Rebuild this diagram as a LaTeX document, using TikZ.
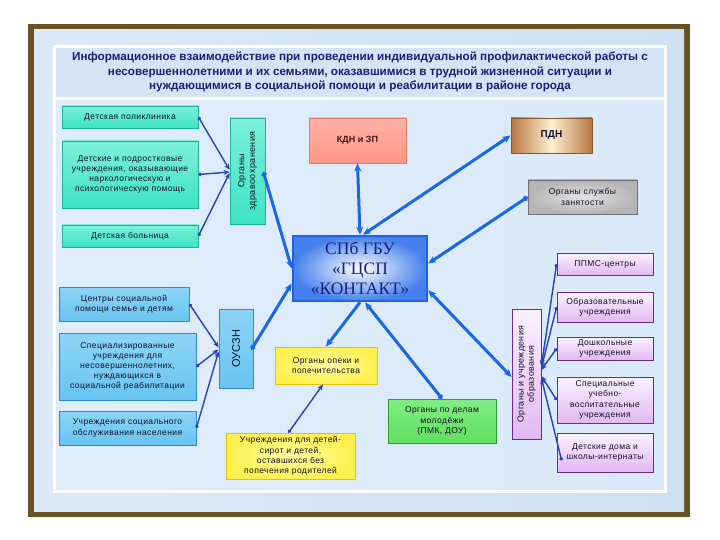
\documentclass[tikz,border=0pt]{standalone}
\usepackage{fontspec}
\setmainfont{Liberation Sans}
\newfontfamily\boxf[LetterSpace=5]{Liberation Sans}
\newfontfamily\serifx{Liberation Serif}
\usetikzlibrary{arrows.meta,calc,shadings}
\definecolor{frameb}{RGB}{107,82,37}
\definecolor{outerbg}{RGB}{206,224,242}
\definecolor{titlebg}{RGB}{212,228,245}
\definecolor{diagbg}{RGB}{218,233,249}
\definecolor{navy}{RGB}{26,30,120}
\definecolor{thinb}{RGB}{36,68,184}
\definecolor{thickb}{RGB}{26,104,228}
\definecolor{tealf}{RGB}{60,228,196}
\definecolor{tealt}{RGB}{125,240,218}
\definecolor{tealb}{RGB}{32,176,150}
\definecolor{bluef}{RGB}{104,196,240}
\definecolor{bluet}{RGB}{140,212,246}
\definecolor{blueb}{RGB}{52,136,214}
\definecolor{salf}{RGB}{255,150,136}
\definecolor{salt}{RGB}{255,178,164}
\definecolor{salb}{RGB}{226,122,106}
\definecolor{pdnf}{RGB}{184,120,66}
\definecolor{pdnc}{RGB}{255,240,208}
\definecolor{pdnb}{RGB}{138,90,40}
\definecolor{grayf}{RGB}{180,180,180}
\definecolor{grayc}{RGB}{228,228,228}
\definecolor{grayb}{RGB}{110,110,110}
\definecolor{spbf}{RGB}{70,128,236}
\definecolor{spbb}{RGB}{30,98,230}
\definecolor{yelf}{RGB}{255,240,80}
\definecolor{yelc}{RGB}{255,255,160}
\definecolor{yelb}{RGB}{226,196,0}
\definecolor{grnf}{RGB}{96,224,96}
\definecolor{grnt}{RGB}{130,236,130}
\definecolor{grnb}{RGB}{46,158,46}
\definecolor{purt}{RGB}{250,242,255}
\definecolor{purf}{RGB}{226,184,242}
\definecolor{purb}{RGB}{106,44,140}
\definecolor{txt}{RGB}{16,16,40}
\tikzset{
  box/.style={draw, line width=0.8pt, inner sep=1pt, align=center, text=txt,
    font=\boxf\fontsize{8.5}{10.2}\selectfont},
  teal/.style={box, draw=tealb, top color=tealt, bottom color=tealf},
  bluebox/.style={box, draw=blueb, top color=bluet, bottom color=bluef},
  purp/.style={box, draw=purb, top color=purt, bottom color=purf},
  yel/.style={box, draw=yelb, inner color=yelc, outer color=yelf},
  thin/.style={draw=thinb, line width=1.4pt, {Circle[length=3.4pt]}-{Stealth[length=6pt,width=5pt]}},
  thick/.style={draw=thickb, line width=3pt, -{Stealth[length=8pt,width=7pt]}},
  thickdd/.style={draw=thickb, line width=3pt, {Stealth[length=8pt,width=7pt]}-{Stealth[length=8pt,width=7pt]}},
  thickdot/.style={draw=thickb, line width=3pt, {Circle[length=5pt]}-{Stealth[length=8pt,width=7pt]}},
}
\begin{document}
\begin{tikzpicture}[x=1pt,y=-1pt]
\useasboundingbox (0,0) rectangle (720,540);
\fill[white] (0,0) rectangle (720,540);
% frame
\fill[frameb] (28,24) rectangle (690,517);
\fill[left color=outerbg!70!white, right color=outerbg] (34,30) rectangle (684,511);
% panel
\fill[white] (53,45) rectangle (667,493);
\fill[titlebg] (56,48) rectangle (664,97);
\fill[left color=diagbg!85!white, right color=diagbg] (56,101) rectangle (664,489);

\node[text=navy, font=\bfseries\fontsize{11.7}{14.5}\selectfont, align=center] (title) at (360,72)
 {Информационное взаимодействие при проведении индивидуальной профилактической работы с\\
  несовершеннолетними и их семьями, оказавшимися в трудной жизненной ситуации и\\
  нуждающимися в социальной помощи и реабилитации в районе города};

% left top group
\node[teal, minimum width=136pt, minimum height=22pt] (pol) at (130,117) {Детская поликлиника};
\node[teal, minimum width=136pt, minimum height=67pt] (podr) at (130,174.5)
 {Детские и подростковые\\учреждения, оказывающие\\наркологическую и\\психологическую помощь};
\node[teal, minimum width=136pt, minimum height=22pt] (boln) at (130,236) {Детская больница};
\node[teal, minimum width=106pt, minimum height=35pt, rotate=90, font=\boxf\fontsize{9}{10.8}\selectfont] (zdrav) at (247.5,171)
 {Органы\\здравоохранения};

% left bottom group
\node[bluebox, minimum width=130pt, minimum height=34pt] (centr) at (124,304)
 {Центры социальной\\помощи семье и детям};
\node[bluebox, minimum width=137pt, minimum height=67pt] (spez) at (127.5,366.5)
 {Специализированные\\учреждения для\\несовершеннолетних,\\нуждающихся в\\социальной реабилитации};
\node[bluebox, minimum width=137pt, minimum height=34pt] (obsl) at (127.5,428)
 {Учреждения социального\\обслуживания населения};
\node[bluebox, minimum width=79pt, minimum height=34pt, rotate=90, font=\fontsize{11}{12}\selectfont] (ouszn) at (236,348.5) {ОУСЗН};

% top
\node[box, draw=salb, top color=salt, bottom color=salf, minimum width=97pt, minimum height=45pt,
  font=\bfseries\fontsize{9}{10}\selectfont, text={rgb,255:red,70;green,20;blue,20}] (kdn) at (357.5,140.5) {КДН и ЗП};
\node[box, draw=pdnb, left color=pdnf, right color=pdnf, middle color=pdnc, minimum width=81pt, minimum height=35pt,
  font=\bfseries\fontsize{10}{11}\selectfont] (pdn) at (551.5,135.5) {ПДН};
\node[box, draw=grayb, inner color=grayc, outer color=grayf, minimum width=109pt, minimum height=34pt] (zan) at (582.5,197)
 {Органы службы\\занятости};

% center
\node[draw=spbb, line width=2.6pt, inner color=white, outer color=spbf, minimum width=134pt, minimum height=65pt,
  align=center, text=navy, font=\serifx\fontsize{17.5}{20}\selectfont] (spb) at (360,268.5)
 {СПб ГБУ\\«ГЦСП\\«КОНТАКТ»};

% bottom middle
\node[yel, minimum width=102pt, minimum height=37pt] (opek) at (326,365.5) {Органы опеки и\\попечительства};
\node[yel, minimum width=129pt, minimum height=46pt] (sirot) at (290.5,456)
 {Учреждения для детей-\\сирот и детей,\\оставшихся без\\попечения родителей};
\node[box, draw=grnb, top color=grnt, bottom color=grnf, minimum width=108pt, minimum height=44pt] (mol) at (442,421)
 {Органы по делам\\молодёжи\\(ПМК, ДОУ)};

% right group
\node[purp, minimum width=130pt, minimum height=29pt, rotate=90, font=\boxf\fontsize{8.8}{10.2}\selectfont] (orgobr) at (526.5,374)
 {Органы и учреждения\\образования};
\node[purp, minimum width=96pt, minimum height=22pt] (ppms) at (605,264) {ППМС-центры};
\node[purp, minimum width=96pt, minimum height=30pt] (obr) at (605,307) {Образовательные\\учреждения};
\node[purp, minimum width=96pt, minimum height=23pt] (dosh) at (605,348.5) {Дошкольные\\учреждения};
\node[purp, minimum width=96pt, minimum height=46pt] (spec) at (605,400) {Специальные\\учебно-\\воспитательные\\учреждения};
\node[purp, minimum width=96pt, minimum height=39pt] (dd) at (605,452.5) {Детские дома и\\школы-интернаты};

% thin feeders (rotated nodes: north = left side, south = right side)
\draw[thin] (pol.east) -- ($(zdrav.north)+(0,-1)$);
\draw[thin] (podr.east) -- ($(zdrav.north)+(0,1)$);
\draw[thin] (boln.east) -- ($(zdrav.north)+(0,2)$);
\draw[thin] (centr.east) -- ($(ouszn.north)+(0,-1)$);
\draw[thin] (spez.east) -- ($(ouszn.north)+(0,1)$);
\draw[thin] (obsl.east) -- ($(ouszn.north)+(0,3)$);
\draw[thin] ($(sirot.north)+(-2,0)$) -- ($(opek.south)+(-3,0)$);

\coordinate (oa) at ($(orgobr.south)+(0,-8)$);
\coordinate (ob) at ($(orgobr.south)+(0,-6)$);
\coordinate (oc) at ($(orgobr.south)+(0,-4)$);
\coordinate (od) at ($(orgobr.south)+(0,2)$);
\coordinate (oe) at ($(orgobr.south)+(0,4)$);
\coordinate (ddp) at ($(dd.west)+(5,8)$);
\draw[thin] (ppms.west) -- (oa);
\draw[thin] (obr.west) -- (ob);
\draw[thin] (dosh.west) -- (oc);
\draw[thin] (spec.west) -- (od);
\draw[thin] (ddp) -- (oe);

% thick connectors
\draw[thickdot] ($(zdrav.south)+(-2,1)$) -- (spb.west);
\draw[thickdot] ($(ouszn.south)+(-2,1)$) -- ($(spb.west)+(0,15)$);
\draw[thickdd] (kdn.south) -- (spb.north);
\draw[thickdd] (pdn.west) -- ($(spb.north)+(3,0)$);
\draw[thickdot] (zan.west) -- ($(spb.east)+(0,-5)$);
\draw[thickdd] ($(spb.south east)+(0,-12)$) -- ($(orgobr.north)+(0,3)$);
\draw[thick] (spb.south) -- (opek.north);
\draw[draw=thickb, line width=3pt, {Stealth[length=8pt,width=7pt]}-{Circle[length=5pt]}] ($(spb.south)+(5,0)$) -- (mol.north);
\end{tikzpicture}
\end{document}
